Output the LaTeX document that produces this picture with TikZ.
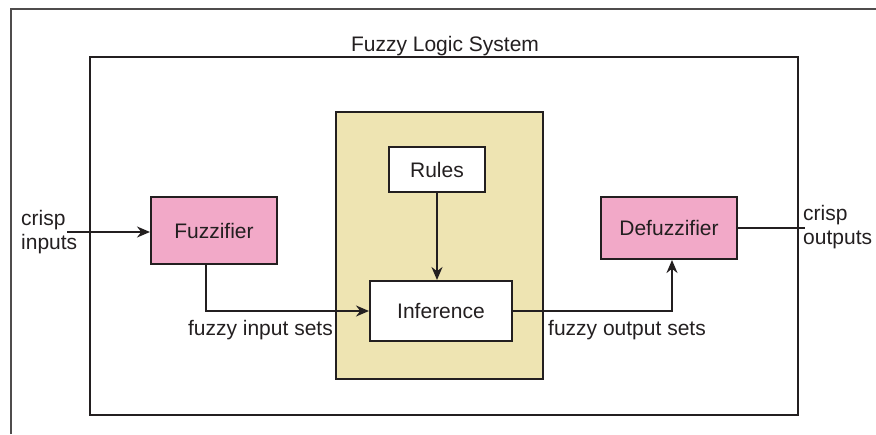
\documentclass[tikz,border=0pt]{standalone}
\usepackage{fontspec}
\setmainfont{Liberation Sans}
\usetikzlibrary{arrows.meta}
\definecolor{pinkbox}{HTML}{F2A9C8}
\definecolor{yellowbox}{HTML}{EEE4B2}
\definecolor{ink}{HTML}{231F20}
\begin{document}
\begin{tikzpicture}[x=1pt,y=-1pt,
  font=\fontsize{21}{24}\selectfont, text=ink,
  box/.style={draw=ink, line width=2pt, inner sep=0pt},
  arr/.style={draw=ink, line width=2pt, -{Stealth[length=13pt,width=11pt]}},
  plain/.style={draw=ink, line width=2pt}]
\useasboundingbox (0,0) rectangle (876,434);
% outer frame
\draw[ink!80, line width=1.5pt] (11,434) -- (11,9) -- (876,9);
% system box
\node[box, minimum width=708pt, minimum height=358pt] (sys) at (444,236) {};
\node[anchor=base] (title) at (445,51) {Fuzzy Logic System};
% inference engine
\node[box, fill=yellowbox, minimum width=207pt, minimum height=267pt] (eng) at (439.5,245.5) {};
\node[box, fill=white, minimum width=96pt, minimum height=45pt] (rules) at (437,169.5) {Rules};
\node[box, fill=white, minimum width=142pt, minimum height=60pt] (inf) at (441,311) {Inference};
% fuzzifier / defuzzifier
\node[box, fill=pinkbox, minimum width=126pt, minimum height=67pt] (fuzz) at (214,230.5) {Fuzzifier};
\node[box, fill=pinkbox, minimum width=136pt, minimum height=62pt] (defuzz) at (669,228) {Defuzzifier};
% labels
\node[anchor=west, align=left, inner sep=0pt] (cin-l) at (21,232) {crisp\\inputs};
\node[anchor=west, align=left, inner sep=0pt] (cout-l) at (803,227) {crisp\\outputs};
\node[anchor=base east, inner sep=0pt] (fis) at (333,335) {fuzzy input sets};
\node[anchor=base west, inner sep=0pt] (fos) at (548,335) {fuzzy output sets};
% connectors
\coordinate (cin) at (67,232);
\coordinate (cout) at (805,228);
\draw[arr] (cin) -- (fuzz.west |- cin);
\draw[arr] ([xshift=-8pt]fuzz.south) |- (inf.west);
\draw[arr] (rules.south) -- (rules.south |- inf.north);
\draw[arr] (inf.east) -| ([xshift=3pt]defuzz.south);
\draw[plain] (defuzz.east) -- (cout);
\end{tikzpicture}
\end{document}
